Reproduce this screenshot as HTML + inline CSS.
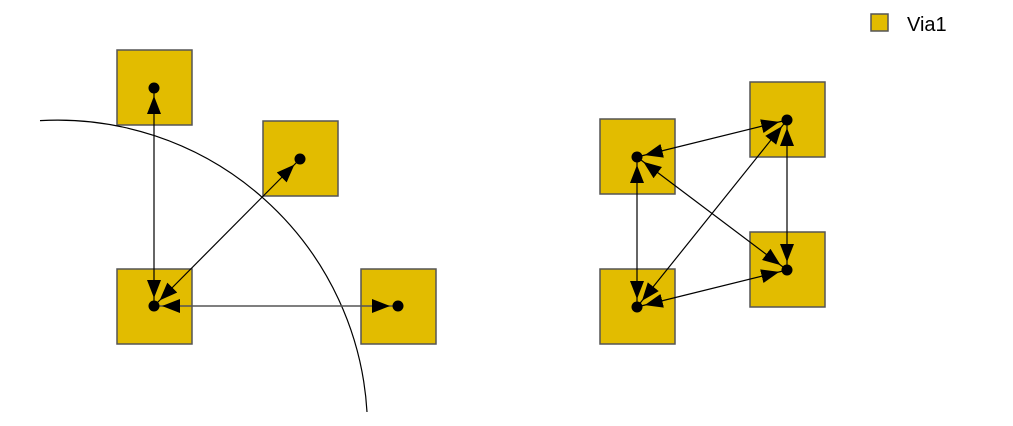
<!DOCTYPE html>
<html><head><meta charset="utf-8"><style>
html,body{margin:0;padding:0;background:#fff;}
svg{display:block;}
</style></head><body>
<svg width="1013" height="426" viewBox="0 0 1013 426" xmlns="http://www.w3.org/2000/svg">
<defs>
<marker id="a" viewBox="0 0 18 14" refX="26" refY="7" markerWidth="18" markerHeight="14" markerUnits="userSpaceOnUse" orient="auto-start-reverse">
<path d="M0,0 L18,7 L0,14 Z" fill="#000"/>
</marker>
</defs>
<g fill="#e2bc00" stroke="#555" stroke-width="1.5">
<rect x="117" y="50" width="75" height="75"/>
<rect x="263" y="121" width="75" height="75"/>
<rect x="117" y="269" width="75" height="75"/>
<rect x="361" y="269" width="75" height="75"/>
<rect x="600" y="119" width="75" height="75"/>
<rect x="750" y="82" width="75" height="75"/>
<rect x="600" y="269" width="75" height="75"/>
<rect x="750" y="232" width="75" height="75"/>
<rect x="871" y="14" width="17" height="17"/>
</g>
<path d="M40,120.6 A310,310 0 0 1 367,412" fill="none" stroke="#000" stroke-width="1.2"/>
<g stroke="#000" stroke-width="1.2" marker-start="url(#a)" marker-end="url(#a)">
<line x1="154" y1="88" x2="154" y2="306"/>
<line x1="300" y1="159" x2="154" y2="306"/>
<line x1="154" y1="306" x2="398" y2="306" stroke="#555" stroke-width="1.5"/>
<line x1="637" y1="157" x2="787" y2="120"/>
<line x1="637" y1="157" x2="637" y2="307"/>
<line x1="637" y1="157" x2="787" y2="270"/>
<line x1="787" y1="120" x2="637" y2="307"/>
<line x1="787" y1="120" x2="787" y2="270"/>
<line x1="637" y1="307" x2="787" y2="270"/>
</g>
<g fill="#000">
<circle cx="154" cy="88" r="5.5"/><circle cx="300" cy="159" r="5.5"/>
<circle cx="154" cy="306" r="5.5"/><circle cx="398" cy="306" r="5.5"/>
<circle cx="637" cy="157" r="5.5"/><circle cx="787" cy="120" r="5.5"/>
<circle cx="637" cy="307" r="5.5"/><circle cx="787" cy="270" r="5.5"/>
</g>
<text x="907" y="31" font-family="Liberation Sans, sans-serif" font-size="20" fill="#000">Via1</text>
</svg>
</body></html>
